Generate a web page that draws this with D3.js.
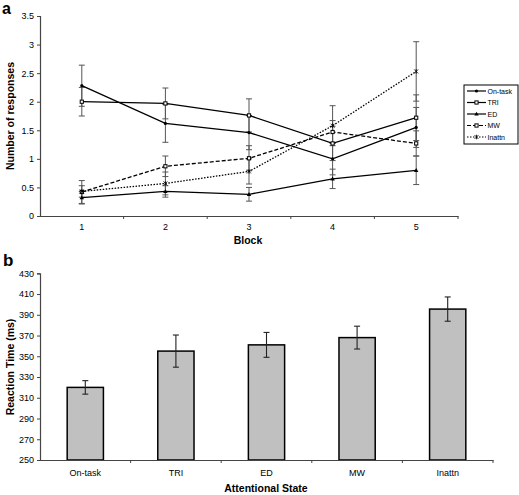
<!DOCTYPE html>
<html><head><meta charset="utf-8">
<script src="https://cdn.jsdelivr.net/npm/d3@7"></script>
<style>body{margin:0;background:#fff}svg{display:block;font-family:"Liberation Sans",Arial,sans-serif}</style>
</head><body><svg id="c" width="519" height="495"></svg>
<script>
// ---- Panel a data ----
const blocks = ["1","2","3","4","5"];
const seriesNames = ["On-task","TRI","ED","MW","Inattn"];
const onTask = [2.28, 1.62, 1.46, 1.00, 1.55];
const onTaskErr = [0.36, 0.33, 0.30, 0.28, 0.35];
const tri = [2.00, 1.97, 1.76, 1.27, 1.72];
const triErr = [0.25, 0.27, 0.29, 0.30, 0.40];
const ed = [0.32, 0.43, 0.38, 0.65, 0.80];
const edErr = [0.11, 0.10, 0.12, 0.17, 0.25];
const mw = [0.42, 0.87, 1.01, 1.47, 1.27];
const mwErr = [0.20, 0.18, 0.22, 0.20, 0.22];
const inattn = [0.43, 0.57, 0.78, 1.58, 2.53];
const inattnErr = [0.10, 0.20, 0.22, 0.35, 0.52];
const yTicksA = [0, 0.5, 1, 1.5, 2, 2.5, 3, 3.5];
// ---- Panel b data ----
const states = ["On-task","TRI","ED","MW","Inattn"];
const rt = [320, 355, 361, 368, 395.5];
const rtErr = [6.5, 15.5, 12, 11, 11.7];
const yTicksB = [250,270,290,310,330,350,370,390,410,430];

const svg = d3.select("#c");
const axisCol = "#444";

// ===== Panel a =====
const xa = d3.scaleBand().domain(blocks).range([40, 458]);
const ya = d3.scaleLinear().domain([0, 3.5]).range([216, 16]);
const gA = svg.append("g");
gA.append("text").attr("x", 2).attr("y", 14).attr("font-size", 16).attr("font-weight", "bold").text("a");
// y axis
const yAxA = gA.append("g").attr("transform", "translate(40,0)")
  .call(d3.axisLeft(ya).tickValues(yTicksA).tickSize(3).tickFormat(d3.format("")));
// x axis
const xAxA = gA.append("g").attr("transform", "translate(0,216)")
  .call(d3.axisBottom(xa).tickSize(0).tickPadding(8));
// boundary ticks
gA.append("g").selectAll("line").data(blocks.slice(1).concat(["end"])).join("line")
  .attr("x1", (d,i) => i < 4 ? xa(d) : 458).attr("x2", (d,i) => i < 4 ? xa(d) : 458)
  .attr("y1", 216).attr("y2", 219).attr("stroke", axisCol);
[yAxA, xAxA].forEach(g => {
  g.selectAll("path").attr("stroke", axisCol).attr("stroke-width", 1.2);
  g.selectAll("line").attr("stroke", axisCol);
  g.selectAll("text").attr("font-size", 9).attr("fill", "#000").attr("font-family", "Liberation Sans, Arial");
});
gA.append("text").attr("transform", "translate(14,116) rotate(-90)").attr("text-anchor", "middle")
  .attr("font-size", 10.5).attr("font-weight", "bold").text("Number of responses");
gA.append("text").attr("x", 248).attr("y", 244).attr("text-anchor", "middle")
  .attr("font-size", 10.5).attr("font-weight", "bold").text("Block");

const series = [
  {name: seriesNames[0], vals: onTask, err: onTaskErr, dash: null, mk: "dot"},
  {name: seriesNames[1], vals: tri, err: triErr, dash: null, mk: "square"},
  {name: seriesNames[2], vals: ed, err: edErr, dash: null, mk: "tri"},
  {name: seriesNames[3], vals: mw, err: mwErr, dash: "4,2", mk: "square"},
  {name: seriesNames[4], vals: inattn, err: inattnErr, dash: "1.5,1.5", mk: "star"}
];
const cx = d => xa(d) + xa.bandwidth() / 2;
// error bars
series.forEach(s => {
  const eg = gA.append("g").attr("stroke", "#555").attr("stroke-width", 1);
  s.vals.forEach((v, i) => {
    const x = cx(blocks[i]);
    eg.append("line").attr("x1", x).attr("x2", x).attr("y1", ya(v - s.err[i])).attr("y2", ya(v + s.err[i]));
    [v - s.err[i], v + s.err[i]].forEach(e =>
      eg.append("line").attr("x1", x - 3).attr("x2", x + 3).attr("y1", ya(e)).attr("y2", ya(e)));
  });
});
const line = d3.line().x((d, i) => cx(blocks[i])).y(d => ya(d));
function marker(g, type, x, y) {
  if (type === "dot") g.append("circle").attr("cx", x).attr("cy", y).attr("r", 1.6).attr("fill", "#000");
  else if (type === "square") g.append("rect").attr("x", x - 1.6).attr("y", y - 1.6).attr("width", 3.2).attr("height", 3.2).attr("fill", "#fff").attr("stroke", "#000").attr("stroke-width", 1);
  else if (type === "tri") g.append("path").attr("d", `M${x},${y-2.3}L${x+2.2},${y+1.6}L${x-2.2},${y+1.6}Z`).attr("fill", "#000");
  else g.append("path").attr("d", `M${x-2},${y-2}L${x+2},${y+2}M${x-2},${y+2}L${x+2},${y-2}M${x},${y-2.3}V${y+2.3}`).attr("stroke", "#000").attr("stroke-width", 0.8);
}
series.forEach(s => {
  gA.append("path").datum(s.vals).attr("d", line).attr("fill", "none").attr("stroke", "#000")
    .attr("stroke-width", 1.3).attr("stroke-dasharray", s.dash);
  s.vals.forEach((v, i) => marker(gA, s.mk, cx(blocks[i]), ya(v)));
});
// legend
const lg = gA.append("g");
lg.append("rect").attr("x", 464).attr("y", 85).attr("width", 54).attr("height", 59)
  .attr("fill", "#fff").attr("stroke", "#000").attr("stroke-width", 1);
const ly = d3.scalePoint().domain(seriesNames).range([91, 137]);
series.forEach(s => {
  const y = ly(s.name);
  lg.append("line").attr("x1", 467).attr("x2", 486).attr("y1", y).attr("y2", y)
    .attr("stroke", "#000").attr("stroke-width", 1.2).attr("stroke-dasharray", s.dash);
  marker(lg, s.mk, 476.5, y);
  lg.append("text").attr("x", 487.5).attr("y", y + 2.5).attr("font-size", 7).attr("fill", "#000").text(s.name);
});

// ===== Panel b =====
const xb = d3.scaleBand().domain(states).range([40, 493]).paddingInner(0.6).paddingOuter(0.3);
const xbBand = d3.scaleBand().domain(states).range([40, 493]);
const yb = d3.scaleLinear().domain([250, 430]).range([460, 273.3]);
const gB = svg.append("g");
gB.append("text").attr("x", 3).attr("y", 266).attr("font-size", 17).attr("font-weight", "bold").text("b");
const yAxB = gB.append("g").attr("transform", "translate(40,0)")
  .call(d3.axisLeft(yb).tickValues(yTicksB).tickSize(3));
gB.selectAll(".bar").data(states).join("rect").attr("class", "bar")
  .attr("x", d => xb(d)).attr("width", xb.bandwidth())
  .attr("y", (d, i) => yb(rt[i])).attr("height", (d, i) => yb(250) - yb(rt[i]))
  .attr("fill", "#c0c0c0").attr("stroke", "#000").attr("stroke-width", 1.5);
const xAxB = gB.append("g").attr("transform", "translate(0,460)")
  .call(d3.axisBottom(xbBand).tickSize(0).tickPadding(10));
gB.append("g").selectAll("line").data([1,2,3,4,5]).join("line")
  .attr("x1", i => 40 + i * xbBand.bandwidth()).attr("x2", i => 40 + i * xbBand.bandwidth())
  .attr("y1", 460).attr("y2", 463).attr("stroke", axisCol);
[yAxB, xAxB].forEach(g => {
  g.selectAll("path").attr("stroke", axisCol).attr("stroke-width", 1.2);
  g.selectAll("line").attr("stroke", axisCol);
  g.selectAll("text").attr("font-size", 9).attr("fill", "#000").attr("font-family", "Liberation Sans, Arial");
});
const ebB = gB.append("g").attr("stroke", "#222").attr("stroke-width", 1.1);
states.forEach((s, i) => {
  const x = xb(s) + xb.bandwidth() / 2;
  ebB.append("line").attr("x1", x).attr("x2", x).attr("y1", yb(rt[i] - rtErr[i])).attr("y2", yb(rt[i] + rtErr[i]));
  [rt[i] - rtErr[i], rt[i] + rtErr[i]].forEach(e =>
    ebB.append("line").attr("x1", x - 3).attr("x2", x + 3).attr("y1", yb(e)).attr("y2", yb(e)));
});
gB.append("text").attr("transform", "translate(14,367) rotate(-90)").attr("text-anchor", "middle")
  .attr("font-size", 10.5).attr("font-weight", "bold").text("Reaction Time (ms)");
gB.append("text").attr("x", 266).attr("y", 492).attr("text-anchor", "middle")
  .attr("font-size", 10.5).attr("font-weight", "bold").text("Attentional State");
</script></body></html>
